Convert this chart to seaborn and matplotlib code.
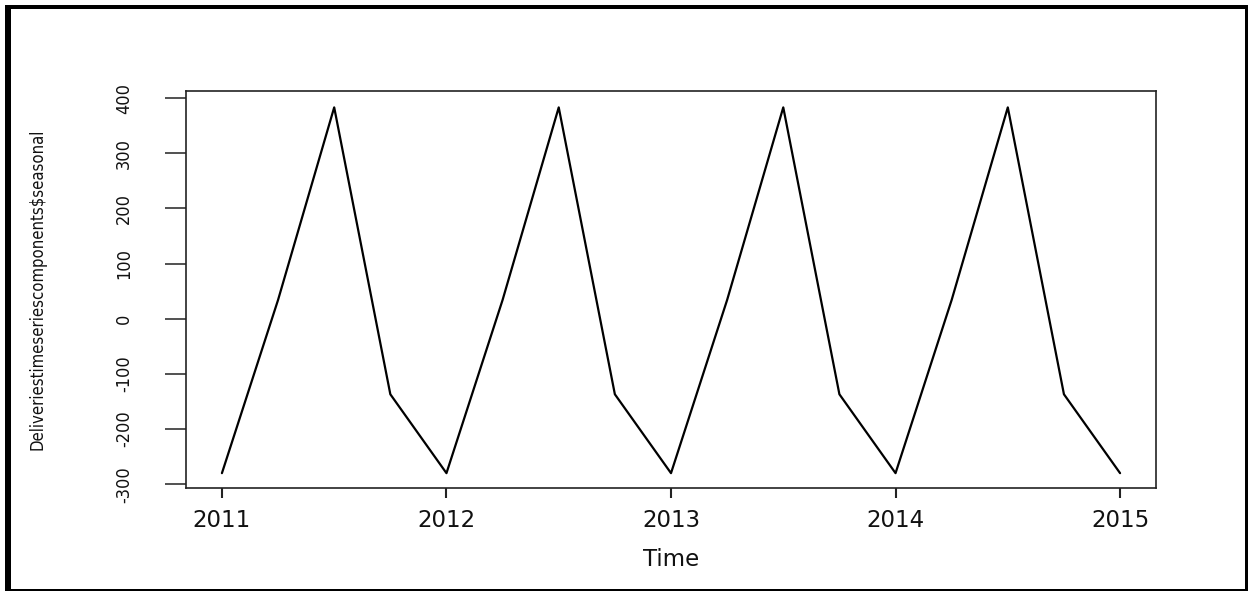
import matplotlib
matplotlib.use("Agg")
import matplotlib.pyplot as plt
from matplotlib.patches import Rectangle
import seaborn as sns
import pandas as pd

# Quarterly time index (decimal years) and seasonal component of the deliveries series
time = [2011.00, 2011.25, 2011.50, 2011.75,
        2012.00, 2012.25, 2012.50, 2012.75,
        2013.00, 2013.25, 2013.50, 2013.75,
        2014.00, 2014.25, 2014.50, 2014.75,
        2015.00]
seasonal = [-280, 34, 383, -137,
            -280, 34, 383, -137,
            -280, 34, 383, -137,
            -280, 34, 383, -137,
            -280]
x_ticks = [2011, 2012, 2013, 2014, 2015]
y_ticks = [-300, -200, -100, 0, 100, 200, 300, 400]
x_title = "Time"
y_title = "Deliveriestimeseriescomponents$seasonal"

df = pd.DataFrame({"Time": time, "seasonal": seasonal})

sns.set_style("white")
plt.rcParams["font.family"] = ["DejaVu Sans"]

W, H = 1248, 592
fig = plt.figure(figsize=(W / 100, H / 100), dpi=100)
fig.patch.set_facecolor("white")

# plot region in pixel coordinates
left, right, top, bottom = 186, 1156, 91, 488
ax = fig.add_axes([left / W, (H - bottom) / H, (right - left) / W, (bottom - top) / H])

sns.lineplot(data=df, x="Time", y="seasonal", ax=ax, color="black",
             linewidth=1.6, estimator=None, sort=False)

ax.set_xlim(2010.84, 2015.16)
ax.set_ylim(-306.9, 412.7)
ax.set_xticks(x_ticks)
ax.set_yticks(y_ticks)
ax.set_xticklabels([str(v) for v in x_ticks], fontsize=16.5, color="#111111")
ax.set_yticklabels([str(v) for v in y_ticks], fontsize=13, color="#111111",
                   fontstretch="condensed")

for s in ax.spines.values():
    s.set_visible(True)
    s.set_color("#222222")
    s.set_linewidth(1.2)

ax.tick_params(axis="x", direction="out", length=7.2, width=1.5, pad=8,
               color="#222222", bottom=True)
ax.tick_params(axis="y", direction="out", length=15, width=1.1, pad=23,
               color="#222222", left=True, labelrotation=90)
for lbl in ax.get_yticklabels():
    lbl.set_va("center")

ax.set_xlabel(x_title, fontsize=16.5, color="#111111", va="baseline")
ax.xaxis.set_label_coords(0.5, (bottom - 566) / (bottom - top))
ax.set_ylabel(y_title, fontsize=12, color="#111111", va="center",
              fontstretch="condensed")
ax.yaxis.set_label_coords((38 - left) / (right - left), 0.5)
ax.grid(False)

# outer frame around the figure
def frame(x0, y0, x1, y1):
    fig.add_artist(Rectangle((x0 / W, 1 - y1 / H), (x1 - x0) / W, (y1 - y0) / H,
                             transform=fig.transFigure, color="black", lw=0))

frame(5, 5, 11, 591)
frame(5, 5, 1248, 9)
frame(1245, 5, 1248, 591)
frame(5, 589, 1248, 591)

fig.savefig("out.png", dpi=100)
